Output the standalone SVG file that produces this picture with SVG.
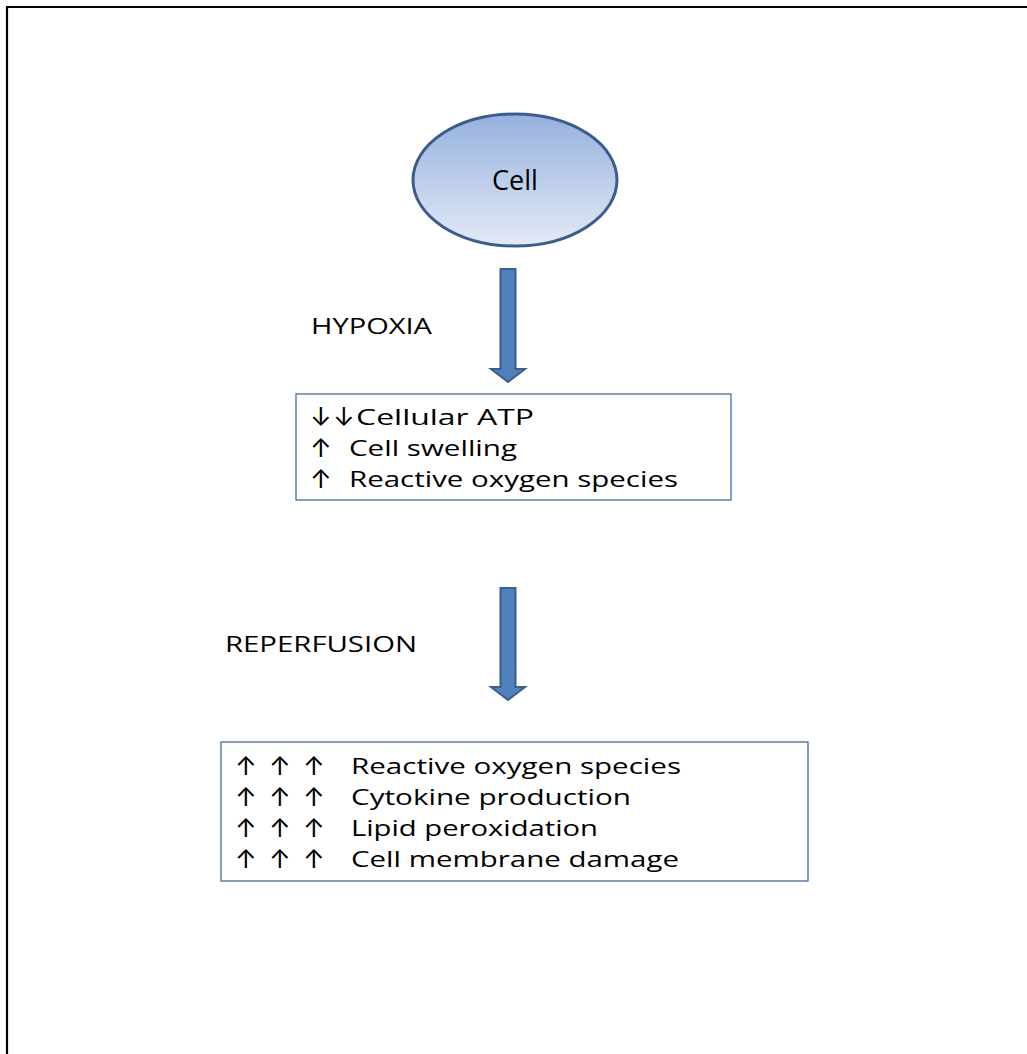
<svg xmlns="http://www.w3.org/2000/svg" width="1027" height="1054" viewBox="0 0 1027 1054">
<defs>
<linearGradient id="cellGrad" x1="0" y1="0" x2="0" y2="1">
<stop offset="0" stop-color="#95b1de"/>
<stop offset="1" stop-color="#e4eaf6"/>
</linearGradient>
<style>
.t{font-family:"Open Sans","Noto Sans","DejaVu Sans",sans-serif;font-size:22px;fill:#000}
.a{font-family:Inter,Lato,sans-serif;font-size:26px;fill:#000}
.box{fill:#fff;stroke:#4a6b9c;stroke-width:1.3}
.blk{fill:#4f81bd;stroke:#3a5f8e;stroke-width:2;stroke-linejoin:miter}
</style>
</defs>
<rect width="1027" height="1054" fill="#fff"/>
<path d="M7,1054 V7 H1027" fill="none" stroke="#000" stroke-width="2.2"/>

<g id="cell">
<ellipse cx="515" cy="180" rx="102" ry="66" fill="url(#cellGrad)" stroke="#3c5d8a" stroke-width="3"/>
<text class="t" x="515" y="190" text-anchor="middle" style="font-size:27px">Cell</text>
</g>

<g id="label-hypoxia">
<text class="t" x="311" y="334" textLength="121" lengthAdjust="spacingAndGlyphs">HYPOXIA</text>
</g>
<g id="label-reperfusion">
<text class="t" x="225" y="652" textLength="192" lengthAdjust="spacingAndGlyphs">REPERFUSION</text>
</g>

<g id="hypoxia-effects">
<rect class="box" x="296" y="394" width="435" height="106"/>
<text class="a" x="310" y="426">↓</text>
<text class="a" x="333" y="426">↓</text>
<text class="t" x="356" y="425" textLength="178" lengthAdjust="spacingAndGlyphs">Cellular ATP</text>
<text class="a" x="310" y="457">↑</text>
<text class="t" x="349" y="456" textLength="168" lengthAdjust="spacingAndGlyphs">Cell swelling</text>
<text class="a" x="310" y="488">↑</text>
<text class="t" x="349" y="487" textLength="329" lengthAdjust="spacingAndGlyphs">Reactive oxygen species</text>
</g>

<g id="reperfusion-effects">
<rect class="box" x="221" y="742" width="587" height="139"/>
<text class="a" x="235" y="775">↑</text><text class="a" x="269" y="775">↑</text><text class="a" x="303" y="775">↑</text>
<text class="t" x="351" y="774" textLength="330" lengthAdjust="spacingAndGlyphs">Reactive oxygen species</text>
<text class="a" x="235" y="806">↑</text><text class="a" x="269" y="806">↑</text><text class="a" x="303" y="806">↑</text>
<text class="t" x="351" y="805" textLength="280" lengthAdjust="spacingAndGlyphs">Cytokine production</text>
<text class="a" x="235" y="837">↑</text><text class="a" x="269" y="837">↑</text><text class="a" x="303" y="837">↑</text>
<text class="t" x="351" y="836" textLength="247" lengthAdjust="spacingAndGlyphs">Lipid peroxidation</text>
<text class="a" x="235" y="868">↑</text><text class="a" x="269" y="868">↑</text><text class="a" x="303" y="868">↑</text>
<text class="t" x="351" y="867" textLength="328" lengthAdjust="spacingAndGlyphs">Cell membrane damage</text>
</g>

<g id="connectors">
<path class="blk" d="M500.5,269 H515.5 V369 H525 L508,382 L491,369 H500.5 Z"/>
<path class="blk" d="M500.5,588 H515.5 V687 H525 L508,700 L491,687 H500.5 Z"/>
</g>
</svg>
